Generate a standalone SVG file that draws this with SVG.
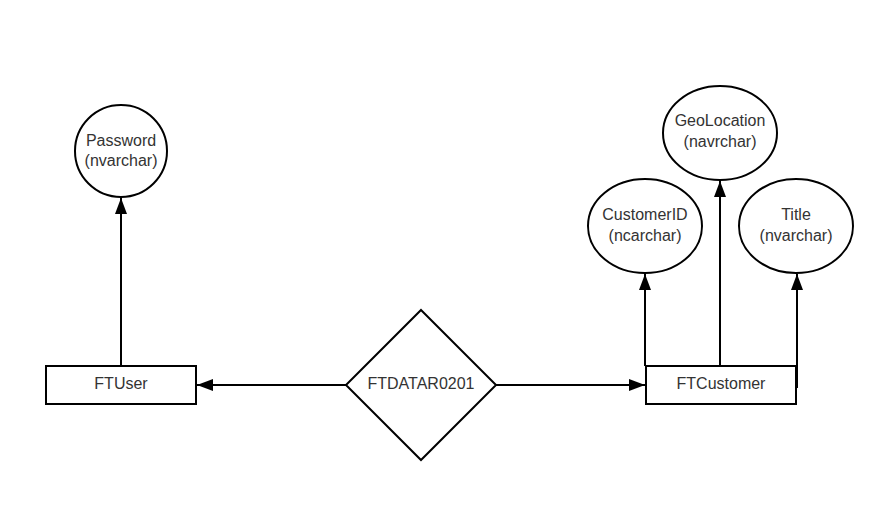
<svg xmlns="http://www.w3.org/2000/svg" width="890" height="515" viewBox="0 0 890 515">
<style>
.s{fill:#fff;stroke:#000;stroke-width:2}
.t{font-family:"Liberation Sans",Arial,sans-serif;font-size:16px;fill:#333;text-anchor:middle;dominant-baseline:central}
.c{fill:none;stroke:#000;stroke-width:2}
</style>
<defs>
<marker id="a" viewBox="0 0 16 12" refX="16" refY="6" markerWidth="16" markerHeight="12" markerUnits="userSpaceOnUse" orient="auto">
<path d="M0,0 L16,6 L0,12 Z" fill="#000"/>
</marker>
</defs>
<rect width="890" height="515" fill="#fff"/>
<g id="connectors">
<line class="c" x1="121" y1="366" x2="121" y2="198" marker-end="url(#a)"/>
<line class="c" x1="645" y1="366" x2="645" y2="274" marker-end="url(#a)"/>
<line class="c" x1="720" y1="366" x2="720" y2="181" marker-end="url(#a)"/>
<line class="c" x1="797" y1="388" x2="797" y2="274" marker-end="url(#a)"/>
<line class="c" x1="346" y1="385" x2="197" y2="385" marker-end="url(#a)"/>
<line class="c" x1="496" y1="385" x2="645" y2="385" marker-end="url(#a)"/>
</g>
<g id="password">
<circle class="s" cx="121" cy="151" r="46"/>
<text class="t" x="121" y="140">Password</text>
<text class="t" x="121" y="160">(nvarchar)</text>
</g>
<g id="customerid">
<ellipse class="s" cx="645" cy="226" rx="57" ry="47"/>
<text class="t" x="645" y="214">CustomerID</text>
<text class="t" x="645" y="235">(ncarchar)</text>
</g>
<g id="geolocation">
<ellipse class="s" cx="720" cy="133" rx="57" ry="47"/>
<text class="t" x="720" y="120">GeoLocation</text>
<text class="t" x="720" y="141">(navrchar)</text>
</g>
<g id="title">
<ellipse class="s" cx="796" cy="226" rx="57" ry="47"/>
<text class="t" x="796" y="214">Title</text>
<text class="t" x="796" y="235">(nvarchar)</text>
</g>
<g id="ftuser">
<rect class="s" x="46" y="366" width="150" height="38"/>
<text class="t" x="121" y="383">FTUser</text>
</g>
<g id="ftcustomer">
<rect class="s" x="646" y="366" width="150" height="38"/>
<text class="t" x="721" y="383">FTCustomer</text>
</g>
<g id="ftdatar0201">
<polygon class="s" points="421,310 496,385 421,460 346,385"/>
<text class="t" x="421" y="383">FTDATAR0201</text>
</g>
</svg>
